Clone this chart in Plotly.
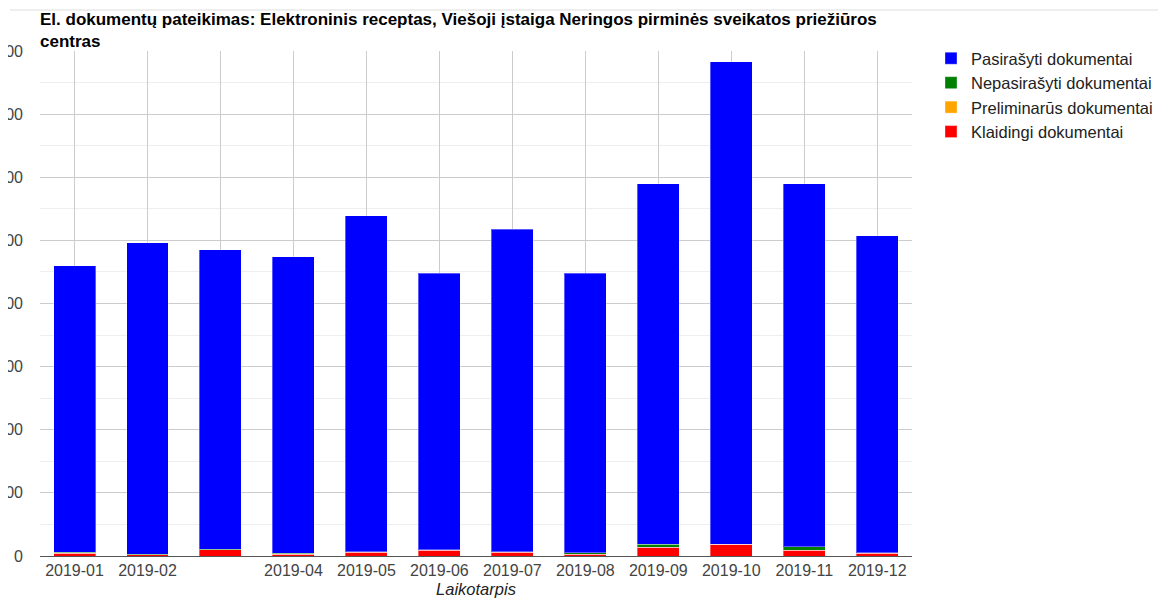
import plotly.graph_objects as go

months = ["2019-01", "2019-02", "2019-03", "2019-04", "2019-05", "2019-06",
          "2019-07", "2019-08", "2019-09", "2019-10", "2019-11", "2019-12"]
tick_labels = ["2019-01", "2019-02", "", "2019-04", "2019-05", "2019-06",
               "2019-07", "2019-08", "2019-09", "2019-10", "2019-11", "2019-12"]

klaidingi = [4, 2, 10, 3, 6, 9, 6, 3, 14, 19, 9, 4]
preliminarus = [0, 0, 0, 0, 0, 0, 0, 0, 0, 0, 0, 0]
nepasirasyti = [2, 1, 1, 1, 1, 1, 1, 2, 5, 0, 6, 1]
pasirasyti = [454, 493, 474, 470, 532, 438, 511, 443, 571, 764, 575, 502]

series = [
    ("Klaidingi dokumentai", klaidingi, "#ff0000"),
    ("Preliminarūs dokumentai", preliminarus, "#ffa500"),
    ("Nepasirašyti dokumentai", nepasirasyti, "#008000"),
    ("Pasirašyti dokumentai", pasirasyti, "#0000ff"),
]

FONT = "Liberation Sans, Arial, sans-serif"
W, H = 1158, 590
L, T = 32, 43
PW, PH = 872, 505

fig = go.Figure()
for name, vals, color in series:
    fig.add_trace(go.Bar(
        x=months, y=vals, name=name,
        marker=dict(color=color, line=dict(color="rgba(255,255,255,0.35)", width=1)),
    ))

fig.update_layout(
    width=W, height=H,
    margin=dict(l=L, r=W - L - PW, t=T, b=H - T - PH, autoexpand=False),
    barmode="stack",
    bargap=0.425,
    plot_bgcolor="white",
    paper_bgcolor="white",
    font=dict(family=FONT, size=16, color="#444"),
    title=dict(
        text="El. dokumentų pateikimas: Elektroninis receptas, Viešoji įstaiga Neringos pirminės sveikatos priežiūros<br>centras",
        x=0, xref="paper", xanchor="left",
        y=1 - 17 / H, yref="container", yanchor="top",
        font=dict(family=FONT, size=17, color="#000", weight="bold"),
    ),
    legend=dict(
        x=(923 - L) / PW, xanchor="left", xref="paper",
        y=1.0 + 10 / PH, yanchor="top",
        traceorder="reversed",
        font=dict(family=FONT, size=16.5, color="#222"),
        itemwidth=30,
        bgcolor="rgba(0,0,0,0)",
    ),
    xaxis=dict(
        type="category",
        range=[-0.473, 11.476],
        tickmode="array", tickvals=months, ticktext=tick_labels,
        showgrid=True, gridcolor="#cccccc", gridwidth=1,
        showline=True, linecolor="#555", linewidth=1,
        ticks="",
        tickfont=dict(family=FONT, size=16, color="#444"),
        title=dict(text="<i>Laikotarpis</i>", font=dict(family=FONT, size=16.5, color="#222"), standoff=11),
    ),
    yaxis=dict(
        range=[0, 800],
        dtick=100,
        showgrid=True, gridcolor="#cccccc", gridwidth=1,
        zeroline=False,
        ticks="",
        ticklabelstandoff=16,
        tickfont=dict(family=FONT, size=16, color="#444"),
        minor=dict(dtick=50, showgrid=True, gridcolor="#eeeeee", gridwidth=1),
    ),
    shapes=[dict(type="line", xref="paper", yref="paper",
                 x0=(2 - L) / PW, x1=(W - L) / PW,
                 y0=(T + PH - 2) / PH, y1=(T + PH - 2) / PH,
                 line=dict(color="#dddddd", width=1))],
)

fig.write_html("out.html")
